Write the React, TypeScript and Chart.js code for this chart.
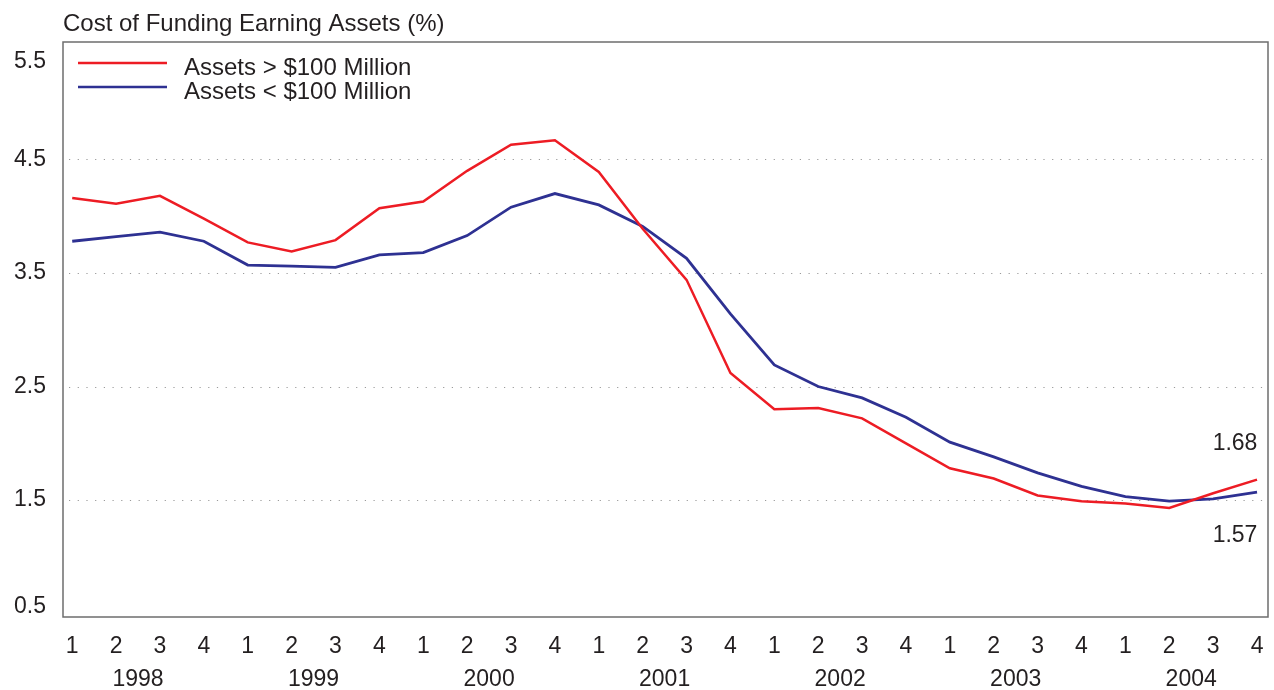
import React, { useEffect, useRef } from "react";
import { Chart, registerables } from "chart.js";

Chart.register(...registerables);

const years = ["1998", "1999", "2000", "2001", "2002", "2003", "2004"];
const quarters = ["1", "2", "3", "4"];
const yTicks = [0.5, 1.5, 2.5, 3.5, 4.5, 5.5];
const gridValues = [1.5, 2.5, 3.5, 4.5];

const largeLabel = "Assets > $100 Million";
const smallLabel = "Assets < $100 Million";

const largeBanks = [
  4.16, 4.11, 4.18, 3.98, 3.77, 3.69, 3.79, 4.07, 4.13, 4.4, 4.63, 4.67,
  4.39, 3.89, 3.44, 2.62, 2.3, 2.31, 2.22, 2.0, 1.78, 1.69, 1.54, 1.49,
  1.47, 1.43, 1.56, 1.68,
];
const smallBanks = [
  3.78, 3.82, 3.86, 3.78, 3.57, 3.56, 3.55, 3.66, 3.68, 3.83, 4.08, 4.2,
  4.1, 3.91, 3.63, 3.14, 2.69, 2.5, 2.4, 2.23, 2.01, 1.88, 1.74, 1.62,
  1.53, 1.49, 1.51, 1.57,
];

const title = "Cost of Funding Earning Assets (%)";
const RED = "#ED1C24";
const BLUE = "#2E3192";
const TEXT = "#231F20";
const FONT = '"Liberation Sans", Arial, sans-serif';

export default function App() {
  const ref = useRef<HTMLCanvasElement | null>(null);

  useEffect(() => {
    const canvas = ref.current;
    if (!canvas) return;

    const decor = {
      id: "decor",
      beforeDatasetsDraw(chart: any) {
        const { ctx, chartArea } = chart;
        const y = chart.scales.y;
        ctx.save();
        ctx.strokeStyle = "#9a9a9a";
        ctx.lineWidth = 1;
        ctx.setLineDash([1.2, 7.5]);
        gridValues.forEach((v) => {
          const py = Math.round(y.getPixelForValue(v)) + 0.5;
          ctx.beginPath();
          ctx.moveTo(chartArea.left + 6, py);
          ctx.lineTo(chartArea.right - 4, py);
          ctx.stroke();
        });
        ctx.restore();
      },
      afterDraw(chart: any) {
        const { ctx, chartArea } = chart;
        const x = chart.scales.x;
        const y = chart.scales.y;
        ctx.save();
        // frame
        ctx.strokeStyle = "#6d6d6d";
        ctx.lineWidth = 1.5;
        ctx.setLineDash([]);
        ctx.strokeRect(
          chartArea.left,
          chartArea.top,
          chartArea.right - chartArea.left,
          chartArea.bottom - chartArea.top
        );
        ctx.fillStyle = TEXT;
        // title
        ctx.font = `24px ${FONT}`;
        ctx.textAlign = "left";
        ctx.textBaseline = "alphabetic";
        ctx.fillText(title, chartArea.left, 31);
        // y tick labels
        ctx.font = `23px ${FONT}`;
        ctx.textAlign = "right";
        ctx.textBaseline = "middle";
        yTicks.forEach((v) => {
          let py = y.getPixelForValue(v);
          py = Math.max(chartArea.top + 20, Math.min(chartArea.bottom - 10, py));
          ctx.fillText(String(v.toFixed(1)), 46, py);
        });
        // x labels
        ctx.textAlign = "center";
        const n = years.length * quarters.length;
        for (let i = 0; i < n; i++) {
          ctx.fillText(quarters[i % 4], x.getPixelForValue(i), 647);
        }
        years.forEach((yr, k) => {
          ctx.fillText(yr, x.getPixelForValue(k * 4 + 1.5), 680);
        });
        // end value annotations
        const last = n - 1;
        ctx.font = `23px ${FONT}`;
        ctx.fillText(
          largeBanks[last].toFixed(2),
          x.getPixelForValue(last) - 22,
          y.getPixelForValue(largeBanks[last]) - 36
        );
        ctx.fillText(
          smallBanks[last].toFixed(2),
          x.getPixelForValue(last) - 22,
          y.getPixelForValue(smallBanks[last]) + 44
        );
        // legend
        const items = [
          { label: largeLabel, color: RED, ly: 63 },
          { label: smallLabel, color: BLUE, ly: 87 },
        ];
        ctx.font = `24px ${FONT}`;
        ctx.textAlign = "left";
        ctx.textBaseline = "middle";
        items.forEach((it) => {
          ctx.strokeStyle = it.color;
          ctx.lineWidth = 2.5;
          ctx.beginPath();
          ctx.moveTo(78, it.ly);
          ctx.lineTo(167, it.ly);
          ctx.stroke();
          ctx.fillStyle = TEXT;
          ctx.fillText(it.label, 184, it.ly + 5);
        });
        ctx.restore();
      },
    };

    const toPts = (arr: number[]) => arr.map((v, i) => ({ x: i, y: v }));

    const chart = new Chart(canvas, {
      type: "line",
      data: {
        datasets: [
          {
            label: largeLabel,
            data: toPts(largeBanks),
            borderColor: RED,
            borderWidth: 2.5,
            pointRadius: 0,
            tension: 0,
          },
          {
            label: smallLabel,
            data: toPts(smallBanks),
            borderColor: BLUE,
            borderWidth: 2.8,
            pointRadius: 0,
            tension: 0,
          },
        ],
      },
      options: {
        animation: false,
        responsive: false,
        maintainAspectRatio: false,
        layout: { padding: { left: 63, top: 42, right: 6, bottom: 73 } },
        plugins: { legend: { display: false }, tooltip: { enabled: false } },
        scales: {
          x: { type: "linear", display: false, min: -0.21, max: 27.25 },
          y: { type: "linear", display: false, min: 0.47, max: 5.535 },
        },
      },
      plugins: [decor],
    });

    return () => chart.destroy();
  }, []);

  return (
    <div style={{ position: "fixed", left: 0, top: 0, width: 1274, height: 690, background: "#fff" }}>
      <canvas ref={ref} width={1274} height={690} style={{ display: "block" }} />
    </div>
  );
}
